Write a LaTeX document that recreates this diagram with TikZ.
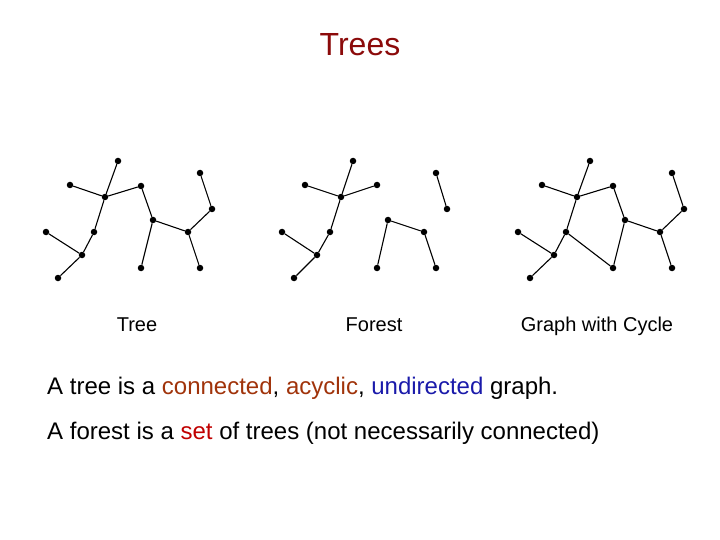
\documentclass[tikz,border=0pt]{standalone}
\usepackage{fontspec}
\setmainfont{Liberation Sans}
\definecolor{ttl}{HTML}{8B0A0A}
\definecolor{brn}{HTML}{A0330A}
\definecolor{blu}{HTML}{1A1AAA}
\definecolor{rd}{HTML}{C00000}
\begin{document}
\begin{tikzpicture}[x=1pt,y=-1pt,
  v/.style={circle,fill=black,inner sep=0pt,minimum size=6.5pt},
  e/.style={line width=1.1pt},
  lbl/.style={font=\fontsize{20}{24}\selectfont,anchor=base},
  txt/.style={font=\fontsize{24}{28}\selectfont,anchor=base west,inner sep=0pt}]
\useasboundingbox (0,0) rectangle (720,540);
\node[font=\fontsize{32}{36}\selectfont,text=ttl] (title) at (360,45) {Trees};
\foreach \pre/\dx in {T/0,C/472}{
 \node[v] (\pre a) at (118+\dx,161) {};
 \node[v] (\pre b) at (70+\dx,185) {};
 \node[v] (\pre c) at (105+\dx,197) {};
 \node[v] (\pre d) at (141+\dx,186) {};
 \node[v] (\pre e) at (94+\dx,232) {};
 \node[v] (\pre f) at (46+\dx,232) {};
 \node[v] (\pre g) at (82+\dx,255) {};
 \node[v] (\pre h) at (58+\dx,278) {};
 \node[v] (\pre i) at (153+\dx,220) {};
 \node[v] (\pre j) at (188+\dx,232) {};
 \node[v] (\pre k) at (141+\dx,268) {};
 \node[v] (\pre l) at (200+\dx,173) {};
 \node[v] (\pre m) at (212+\dx,209) {};
 \node[v] (\pre n) at (200+\dx,268) {};
 \draw[e] (\pre a)--(\pre c) (\pre b)--(\pre c) (\pre c)--(\pre d) (\pre c)--(\pre e)
  (\pre e)--(\pre g) (\pre f)--(\pre g) (\pre g)--(\pre h) (\pre d)--(\pre i)
  (\pre i)--(\pre k) (\pre i)--(\pre j) (\pre j)--(\pre m) (\pre m)--(\pre l) (\pre j)--(\pre n);
}
\draw[e] (Ce)--(Ck);
\node[v] (Fa) at (353,161) {};
\node[v] (Fb) at (305,185) {};
\node[v] (Fc) at (341,197) {};
\node[v] (Fd) at (377,185) {};
\node[v] (Fe) at (330,232) {};
\node[v] (Ff) at (282,232) {};
\node[v] (Fg) at (317,255) {};
\node[v] (Fh) at (294,278) {};
\node[v] (Fi) at (388,220) {};
\node[v] (Fk) at (377,268) {};
\node[v] (Fj) at (424,232) {};
\node[v] (Fn) at (436,268) {};
\node[v] (Fl) at (436,173) {};
\node[v] (Fm) at (447,209) {};
\draw[e] (Fa)--(Fc) (Fb)--(Fc) (Fd)--(Fc) (Fc)--(Fe) (Fe)--(Fg) (Ff)--(Fg) (Fg)--(Fh)
 (Fi)--(Fk) (Fi)--(Fj) (Fj)--(Fn) (Fl)--(Fm);
\node[lbl] (l1) at (137,331) {Tree};
\node[lbl] (l2) at (374,331) {Forest};
\node[lbl] (l3) at (597,331) {Graph with Cycle};
\node[txt] (s1) at (47,394) {A tree is a \textcolor{brn}{connected}, \textcolor{brn}{acyclic}, \textcolor{blu}{undirected} graph.};
\node[txt] (s2) at (47,439) {A forest is a \textcolor{rd}{set} of trees (not necessarily connected)};
\end{tikzpicture}
\end{document}
